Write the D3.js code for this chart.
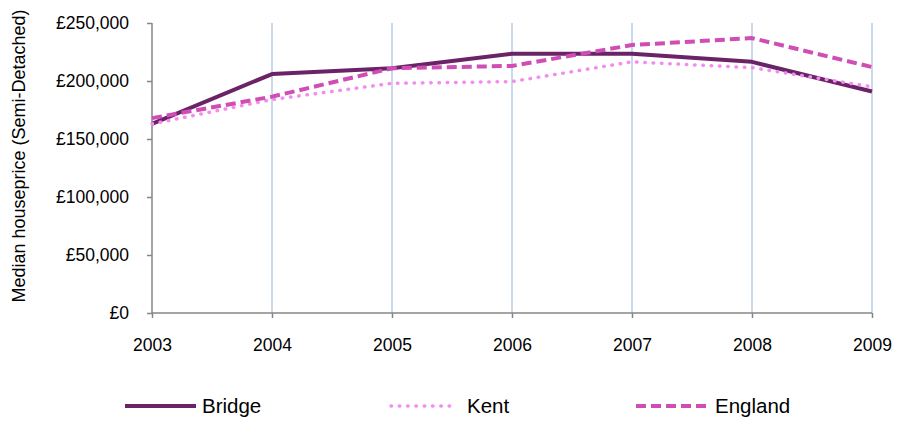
<!DOCTYPE html>
<html>
<head>
<meta charset="utf-8">
<script src="https://cdn.jsdelivr.net/npm/d3@7"></script>
<style>
  html, body { margin: 0; padding: 0; background: #fff; }
  svg { display: block; font-family: "Liberation Sans", Arial, sans-serif; }
</style>
</head>
<body>
<svg id="chart" width="897" height="422"></svg>
<script>
const years = ["2003", "2004", "2005", "2006", "2007", "2008", "2009"];
const bridge = [163000, 206000, 211000, 223500, 223500, 216500, 191000];
const kent = [163000, 184000, 198000, 199500, 216500, 211500, 195000];
const england = [168000, 186500, 211000, 213000, 231000, 237000, 212000];
const yTicks = [0, 50000, 100000, 150000, 200000, 250000];
const yTitle = "Median houseprice (Semi-Detached)";

const seriesList = [
  { name: "Bridge", values: bridge, color: "#6a2367", width: 4, dash: null, cap: "butt" },
  { name: "Kent", values: kent, color: "#f48cf0", width: 3.5, dash: "0.5,7.8", cap: "round" },
  { name: "England", values: england, color: "#cf4db5", width: 4, dash: "10,5", cap: "butt" }
];

const svg = d3.select("#chart");
const pL = 152, pR = 872, pT = 23, pB = 313;

const x = d3.scalePoint().domain(years).range([pL, pR]);
const y = d3.scaleLinear().domain([0, 250000]).range([pB, pT]);

// vertical gridlines
svg.append("g").selectAll("line").data(years.slice(1)).join("line")
  .attr("x1", d => x(d)).attr("x2", d => x(d))
  .attr("y1", pT).attr("y2", pB)
  .attr("stroke", "#b9cde5").attr("stroke-width", 1.5);

// y axis
const fmt = v => "£" + d3.format(",")(v);
const yAxis = svg.append("g").attr("transform", `translate(${pL},0)`)
  .call(d3.axisLeft(y).tickValues(yTicks).tickFormat(fmt).tickSize(5).tickPadding(18));
yAxis.select(".domain").attr("stroke", "#868686").attr("stroke-width", 1.5).attr("d", `M0,${pT}V${pB}`);
yAxis.selectAll(".tick line").attr("stroke", "#868686").attr("stroke-width", 1.5);
yAxis.selectAll(".tick text").attr("font-size", "17.5px").attr("fill", "#000")
  .attr("font-family", "Liberation Sans, Arial, sans-serif");

// x axis
const xAxis = svg.append("g").attr("transform", `translate(0,${pB})`)
  .call(d3.axisBottom(x).tickSize(5).tickPadding(21));
xAxis.select(".domain").attr("stroke", "#868686").attr("stroke-width", 1.5).attr("d", `M${pL},0H${pR}`);
xAxis.selectAll(".tick line").attr("stroke", "#868686").attr("stroke-width", 1.5);
xAxis.selectAll(".tick text").attr("font-size", "17.5px").attr("fill", "#000")
  .attr("font-family", "Liberation Sans, Arial, sans-serif");

// y title
svg.append("text")
  .attr("transform", "translate(25,156) rotate(-90)")
  .attr("text-anchor", "middle")
  .attr("font-size", "18px")
  .attr("fill", "#000")
  .text(yTitle);

// lines
const line = d3.line().x((d, i) => x(years[i])).y(d => y(d));
seriesList.forEach(s => {
  svg.append("path")
    .datum(s.values)
    .attr("d", line)
    .attr("fill", "none")
    .attr("stroke", s.color)
    .attr("stroke-width", s.width)
    .attr("stroke-linecap", s.cap)
    .attr("stroke-linejoin", "round")
    .attr("stroke-dasharray", s.dash);
});

// legend
const legendPos = [
  { x1: 125, x2: 196, tx: 202 },
  { x1: 391, x2: 452, tx: 467 },
  { x1: 636, x2: 707, tx: 715 }
];
const ly = 406;
seriesList.forEach((s, i) => {
  const p = legendPos[i];
  svg.append("line")
    .attr("x1", p.x1).attr("x2", p.x2).attr("y1", ly).attr("y2", ly)
    .attr("stroke", s.color).attr("stroke-width", s.width)
    .attr("stroke-linecap", s.cap)
    .attr("stroke-dasharray", s.dash);
  svg.append("text")
    .attr("x", p.tx).attr("y", ly)
    .attr("dy", "0.35em")
    .attr("font-size", "20.5px")
    .attr("fill", "#000")
    .text(s.name);
});
</script>
</body>
</html>
